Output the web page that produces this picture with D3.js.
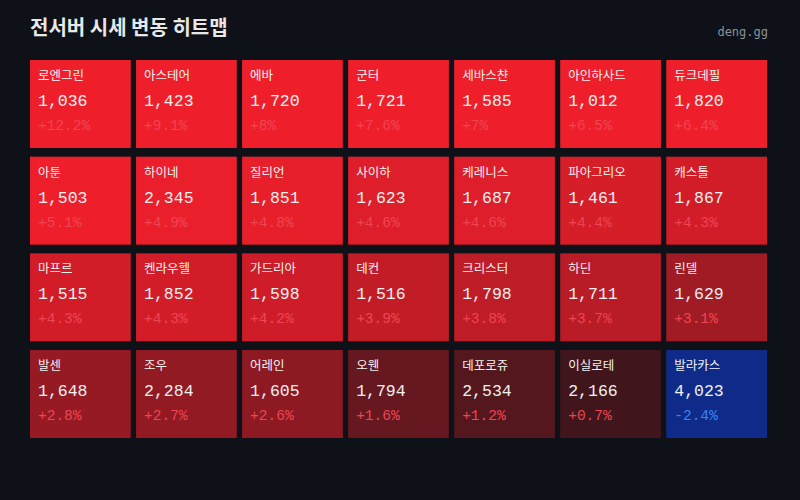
<!DOCTYPE html>
<html><head><meta charset="utf-8">
<script src="https://cdn.jsdelivr.net/npm/d3@7"></script>
<style>
body{margin:0;background:#0e1117;}
</style></head>
<body><svg id="c" width="800" height="500"></svg>
<script>
// server names, prices and % change
const names = ["로엔그린","아스테어","에바","군터","세바스챤","아인하사드","듀크데필",
  "아툰","하이네","질리언","사이하","케레니스","파아그리오","캐스톨",
  "마프르","켄라우헬","가드리아","데컨","크리스터","하딘","린델",
  "발센","조우","어레인","오웬","데포로쥬","이실로테","발라카스"];
const prices = [1036,1423,1720,1721,1585,1012,1820,
  1503,2345,1851,1623,1687,1461,1867,
  1515,1852,1598,1516,1798,1711,1629,
  1648,2284,1605,1794,2534,2166,4023];
const changes = [12.2,9.1,8,7.6,7,6.5,6.4,
  5.1,4.9,4.8,4.6,4.6,4.4,4.3,
  4.3,4.3,4.2,3.9,3.8,3.7,3.1,
  2.8,2.7,2.6,1.6,1.2,0.7,-2.4];

const cols = 7;
const data = names.map((n, i) => ({name: n, price: prices[i], chg: changes[i], col: i % cols, row: Math.floor(i / cols)}));

const svg = d3.select("#c");
svg.append("rect").attr("width", 800).attr("height", 500).attr("fill", "#0e1117");

svg.append("text").attr("x", 30).attr("y", 35)
  .attr("font-family", "Noto Sans CJK KR").attr("font-weight", 700).attr("font-size", 20)
  .attr("fill", "#e8e8e8").text("전서버 시세 변동 히트맵");
svg.append("text").attr("x", 768).attr("y", 36).attr("text-anchor", "end")
  .attr("font-family", "DejaVu Sans Mono").attr("font-size", 12)
  .attr("fill", "#8b919a").text("deng.gg");

const x = d3.scaleBand().domain(d3.range(cols)).range([30, 767]).paddingInner(0.05);
const y = d3.scaleBand().domain(d3.range(4)).range([60, 438]).paddingInner(0.09);

const redScale = d3.scaleLinear().domain([0, 5]).range(["#24141a", "#ee1f2b"]).clamp(true);
const color = d => d.chg < 0 ? "#0f2a88" : redScale(d.chg);

const cell = svg.selectAll("g.cell").data(data).join("g")
  .attr("class", "cell")
  .attr("transform", d => `translate(${x(d.col)},${y(d.row)})`);

cell.append("rect").attr("width", x.bandwidth()).attr("height", y.bandwidth()).attr("fill", color);

cell.append("text").attr("x", 8).attr("y", 20)
  .attr("font-family", "Noto Sans CJK KR").attr("font-size", 12.5)
  .attr("fill", "#f2f2f2").text(d => d.name);
cell.append("text").attr("x", 8).attr("y", 46)
  .attr("font-family", "Liberation Mono").attr("font-size", 16.5)
  .attr("fill", "#f0f0f0").text(d => d3.format(",")(d.price));
cell.append("text").attr("x", 8).attr("y", 70)
  .attr("font-family", "Liberation Mono").attr("font-size", 14.5)
  .attr("fill", d => d.chg < 0 ? "#3b82f6" : "#ef4453")
  .text(d => (d.chg > 0 ? "+" : "") + d.chg + "%");
</script></body></html>
